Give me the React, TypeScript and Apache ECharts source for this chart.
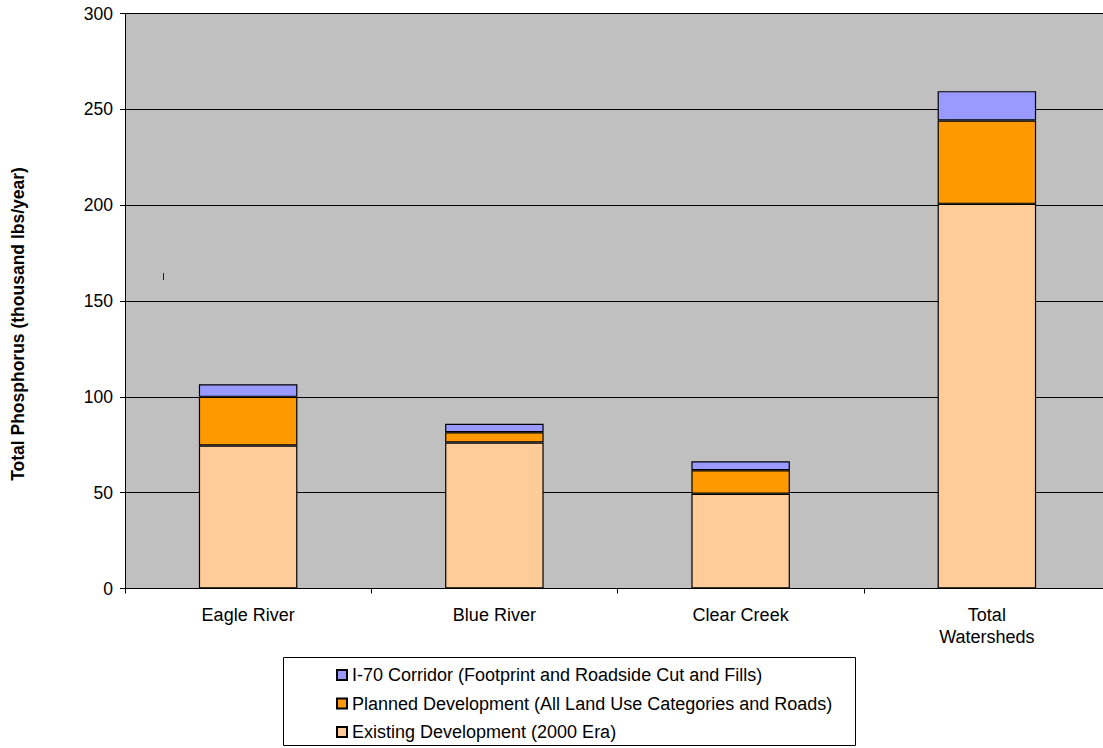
import React, { useEffect, useRef } from "react";
import * as echarts from "echarts";

const categories = ["Eagle River", "Blue River", "Clear Creek", "Total\nWatersheds"];
const existingDev = [74.6, 76.2, 49.4, 200.7];
const plannedDev = [25.4, 5.3, 12.3, 43.5];
const i70Corridor = [6.6, 4.4, 4.7, 15.3];
const yTicks = { min: 0, max: 300, interval: 50 };

const seriesNames = {
  existing: "Existing Development (2000 Era)",
  planned: "Planned Development (All Land Use Categories and Roads)",
  i70: "I-70 Corridor (Footprint and Roadside Cut and Fills)",
};

const FONT = "'Liberation Sans', Arial, sans-serif";

export default function App() {
  const ref = useRef<HTMLDivElement>(null);
  useEffect(() => {
    if (!ref.current) return;
    const chart = echarts.init(ref.current, null, { renderer: "svg" });
    const barStyle = (color: string) => ({
      color,
      borderColor: "#000",
      borderWidth: 1.2,
    });
    chart.setOption({
      animation: false,
      backgroundColor: "#fff",
      textStyle: { fontFamily: FONT },
      grid: { left: 125, right: 0, top: 13.5, bottom: 159.5, show: true, backgroundColor: "#C0C0C0", borderWidth: 0 },
      xAxis: {
        type: "category",
        data: categories,
        axisLine: { lineStyle: { color: "#000", width: 1 } },
        axisTick: { show: true, length: 5, lineStyle: { color: "#000" } },
        axisLabel: { color: "#000", fontSize: 18, fontFamily: FONT, margin: 15, lineHeight: 22 },
      },
      yAxis: {
        type: "value",
        min: yTicks.min,
        max: yTicks.max,
        interval: yTicks.interval,
        axisLine: { show: true, lineStyle: { color: "#000", width: 1 } },
        axisTick: { show: true, length: 5, lineStyle: { color: "#000" } },
        axisLabel: { color: "#000", fontSize: 17.5, fontFamily: FONT, margin: 12 },
        splitLine: { show: true, lineStyle: { color: "#000", width: 1 } },
      },
      legend: {
        orient: "vertical",
        left: 331,
        top: 660.5,
        height: 90,
        itemWidth: 10,
        itemHeight: 10,
        itemGap: 9.5,
        icon: "rect",
        textStyle: { color: "#000", fontSize: 18, fontFamily: FONT, lineHeight: 19 },
        data: [seriesNames.i70, seriesNames.planned, seriesNames.existing],
      },
      graphic: [
        {
          type: "rect",
          shape: { x: 283.5, y: 657.5, width: 572, height: 88 },
          style: { fill: "none", stroke: "#000", lineWidth: 1 },
        },
        {
          type: "text",
          x: 18,
          y: 324,
          rotation: Math.PI / 2,
          style: {
            text: "Total Phosphorus (thousand lbs/year)",
            fontSize: 17.5,
            fontWeight: "bold",
            fontFamily: FONT,
            fill: "#000",
            align: "center",
            verticalAlign: "middle",
          },
        },
        {
          type: "line",
          shape: { x1: 163.5, y1: 273, x2: 163.5, y2: 280 },
          style: { stroke: "#222", lineWidth: 1 },
        },
      ],
      series: [
        { name: seriesNames.existing, type: "bar", stack: "t", barWidth: "40%", data: existingDev, itemStyle: barStyle("#FFCC99") },
        { name: seriesNames.planned, type: "bar", stack: "t", barWidth: "40%", data: plannedDev, itemStyle: barStyle("#FF9900") },
        { name: seriesNames.i70, type: "bar", stack: "t", barWidth: "40%", data: i70Corridor, itemStyle: barStyle("#9999FF") },
      ],
    });
    return () => chart.dispose();
  }, []);
  return (
    <div style={{ position: "fixed", left: 0, top: 0, width: 1103, height: 748, overflow: "hidden" }}>
      <div ref={ref} style={{ width: 1110, height: 748 }} />
    </div>
  );
}
